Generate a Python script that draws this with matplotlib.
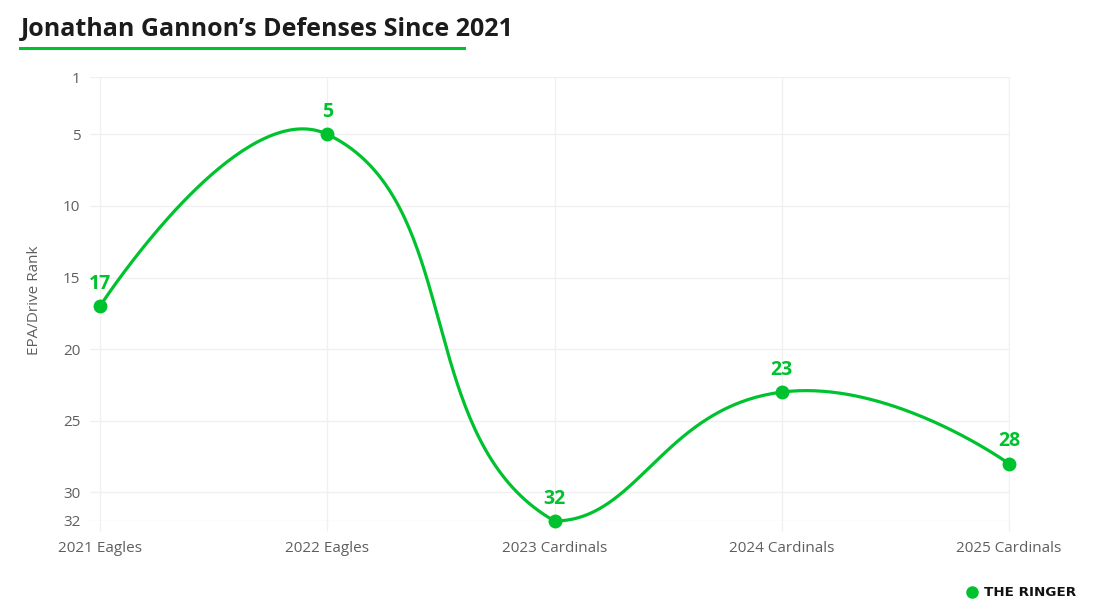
import numpy as np
import matplotlib.pyplot as plt
from matplotlib.lines import Line2D

plt.rcParams['font.family'] = ['Open Sans', 'DejaVu Sans']

# data
seasons = ['2021 Eagles', '2022 Eagles', '2023 Cardinals', '2024 Cardinals', '2025 Cardinals']
epa_drive_rank = [17, 5, 32, 23, 28]
rank_ticks = [1, 5, 10, 15, 20, 25, 30, 32]

GREEN = '#00c22f'
GRID = '#f0f0f0'
TICK = '#5f5f5f'
W, H = 1096, 610


def smooth_curve(ax, xs, ys, smooth=0.5, n=80):
    # bezier smoothing done in pixel space, control points kept inside the plot box
    pts = ax.transData.transform(np.column_stack([xs, ys]))
    x0, y0, x1, y1 = ax.bbox.extents
    lo, hi = np.array([x0, y0]), np.array([x1, y1])
    cps = []
    for i, p in enumerate(pts):
        if i == 0 or i == len(pts) - 1:
            cps.append((p, p))
            continue
        prev, nxt = pts[i - 1], pts[i + 1]
        v = (nxt - prev) * smooth
        d0 = np.hypot(*(p - prev))
        d1 = np.hypot(*(p - nxt))
        c0 = np.clip(p - v * d0 / (d0 + d1), lo, hi)
        c1 = np.clip(p + v * d1 / (d0 + d1), lo, hi)
        cps.append((c0, c1))
    t = np.linspace(0, 1, n)[:, None]
    segs = []
    for i in range(len(pts) - 1):
        a, b = pts[i], pts[i + 1]
        c, d = cps[i][1], cps[i + 1][0]
        segs.append((1 - t)**3 * a + 3 * (1 - t)**2 * t * c + 3 * (1 - t) * t**2 * d + t**3 * b)
    return ax.transData.inverted().transform(np.vstack(segs))


fig = plt.figure(figsize=(W / 100, H / 100), dpi=100)
ax = fig.add_axes([90 / W, 89 / H, 920 / W, 444 / H])

x = np.arange(len(seasons))
ax.set_xlim(-10 * 4 / 909, 4 + 1 * 4 / 909)
ax.set_ylim(32, 1)

curve = smooth_curve(ax, x, epa_drive_rank)
ax.plot(curve[:, 0], curve[:, 1], color=GREEN, lw=2.3, solid_capstyle='round', zorder=3, clip_on=False)
ax.plot(x, epa_drive_rank, 'o', color=GREEN, ms=9, zorder=4, clip_on=False)

for xi, v in zip(x, epa_drive_rank):
    ax.annotate(str(v), (xi, v), xytext=(0, 16), textcoords='offset points',
                ha='center', va='center', color=GREEN, fontsize=14, fontweight='bold')

ax.set_xticks(x)
ax.set_xticklabels(seasons)
ax.set_yticks(rank_ticks)
ax.grid(color=GRID, lw=1)
ax.tick_params(axis='x', length=7.5, width=1, color=GRID, pad=7, labelsize=11, labelcolor=TICK)
ax.tick_params(axis='y', length=0, pad=7, labelsize=11, labelcolor=TICK)
for s in ax.spines.values():
    s.set_visible(False)

fig.text(35 / W, 1 - 300 / H, 'EPA/Drive Rank', rotation=90, ha='center', va='center',
         fontsize=11, color=TICK)

# title + underline
fig.text(21 / W, 1 - 29 / H, 'Jonathan Gannon’s Defenses Since 2021', ha='left', va='center',
         fontsize=18, fontweight='bold', color='#1c1c1c')
fig.add_artist(Line2D([20 / W, 464 / W], [1 - 48 / H, 1 - 48 / H], color=GREEN, lw=2.2))

# logo
fig.add_artist(Line2D([972 / W], [1 - 592 / H], marker='o', ms=8, color=GREEN))
fig.text(984 / W, 1 - 592 / H, 'THE RINGER', ha='left', va='center', fontsize=9.7,
         fontweight='heavy', color='#111111', family=['DejaVu Sans'])

fig.savefig('out.png', dpi=100)
